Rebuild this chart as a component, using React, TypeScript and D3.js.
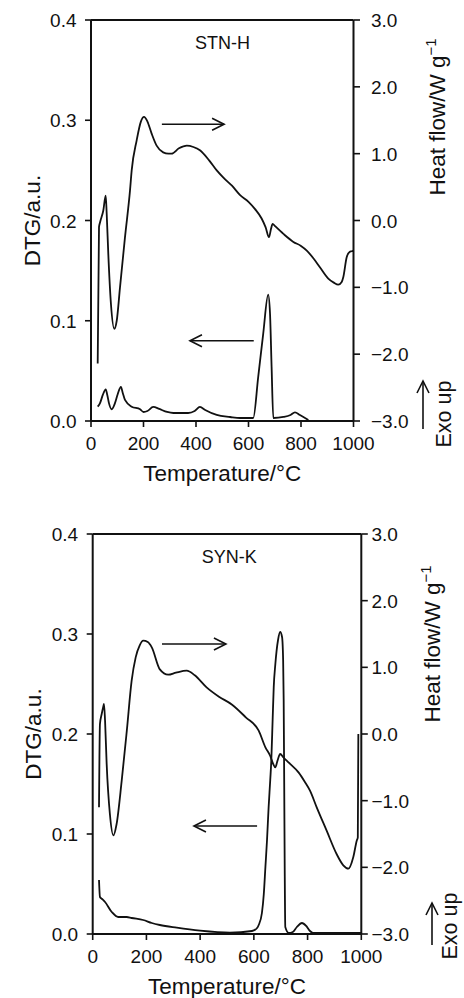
import React from "react";
import * as d3 from "d3";

// ---------- data ----------
const stnDtgT = [25.5, 34, 45, 56, 62, 68.6, 79, 91, 102, 114, 121, 129.5, 155, 187, 200, 215, 237, 260, 290, 314, 370, 395, 415, 435, 479, 530, 568, 600, 618, 637, 656, 675, 682, 688, 694.5, 733, 760, 777, 796, 828];
const stnDtgV = [0.0143, 0.0176, 0.026, 0.0316, 0.026, 0.0176, 0.0117, 0.0176, 0.027, 0.034, 0.028, 0.021, 0.0143, 0.0117, 0.009, 0.010, 0.014, 0.012, 0.009, 0.008, 0.008, 0.010, 0.014, 0.011, 0.006, 0.004, 0.003, 0.003, 0.003, 0.044, 0.087, 0.126, 0.107, 0.054, 0.003, 0.004, 0.006, 0.0087, 0.006, 0.001];

const stnHfT = [25.5, 30.5, 34.3, 46.9, 56, 59.8, 65.9, 76, 88.8, 98, 110.5, 129.5, 148.6, 155, 174, 190, 202, 215, 231, 250, 275, 295, 307, 335, 365, 390, 415, 450, 479, 510, 537, 568, 600, 625, 650, 665, 678, 686, 692, 700, 733, 771, 800, 822, 850, 872, 904, 925, 942, 955, 961, 974, 985, 993, 1000];
const stnHfV = [-2.14, -0.10, -0.03, 0.15, 0.37, 0.10, -0.5, -1.25, -1.62, -1.5, -1.0, -0.25, 0.45, 0.75, 1.2, 1.48, 1.55, 1.48, 1.3, 1.12, 1.02, 1.0, 1.0, 1.08, 1.12, 1.1, 1.05, 0.9, 0.75, 0.62, 0.52, 0.38, 0.28, 0.17, 0.03, -0.1, -0.25, -0.12, -0.05, -0.08, -0.2, -0.32, -0.38, -0.45, -0.58, -0.7, -0.87, -0.93, -0.96, -0.92, -0.85, -0.55, -0.47, -0.46, -0.45];

const synDtgT = [23.5, 27, 35, 46, 71, 95, 127, 145, 188, 220, 250, 313, 400, 511, 593, 612, 618, 630, 637, 643, 649, 655, 661, 665, 670, 674, 680, 690, 698, 705, 709, 711, 713, 715, 717, 730, 745, 760, 779, 795, 809, 820, 900, 1000];
const synDtgV = [0.054, 0.037, 0.035, 0.032, 0.022, 0.017, 0.017, 0.016, 0.014, 0.011, 0.009, 0.0063, 0.0033, 0.0013, 0.003, 0.006, 0.009, 0.021, 0.04, 0.067, 0.094, 0.127, 0.154, 0.174, 0.215, 0.247, 0.27, 0.294, 0.302, 0.297, 0.274, 0.234, 0.15, 0.06, 0.007, 0.001, 0.002, 0.007, 0.011, 0.008, 0.003, 0.001, 0.001, 0.001];

const synHfT = [23.5, 27, 33.5, 40, 42, 46, 52, 64, 77, 89, 108, 127, 145, 160, 175, 188, 205, 220, 250, 281, 310, 350, 380, 424, 470, 519, 570, 618, 643, 661, 672, 680, 688, 698, 710, 730, 767, 790, 809, 834, 871, 908, 933, 952, 970, 983, 987, 989];
const synHfV = [-1.1, 0.15, 0.3, 0.42, 0.45, 0.2, -0.45, -1.2, -1.52, -1.35, -0.7, 0.05, 0.8, 1.15, 1.33, 1.4, 1.38, 1.3, 0.97, 0.89, 0.92, 0.95, 0.88, 0.7, 0.56, 0.44, 0.25, 0.05, -0.2, -0.33, -0.45, -0.5, -0.4, -0.3, -0.35, -0.43, -0.58, -0.72, -0.85, -1.1, -1.45, -1.8, -1.97, -2.02, -1.85, -1.6, -1.55, 0.0];

const xTicks = [0, 200, 400, 600, 800, 1000];
const leftTicks = [0, 0.1, 0.2, 0.3, 0.4];
const rightTicks = [-3, -2, -1, 0, 1, 2, 3];

const sampleNames = ["STN-H", "SYN-K"];
const xTitle = "Temperature/°C";
const leftTitle = "DTG/a.u.";
const rightTitle = "Heat flow/W g";
const exoText = "Exo up";

// ---------- layout ----------
const FONT = "'Liberation Sans', Arial, Helvetica, sans-serif";

type Panel = {
  x0: number; x1: number; yTop: number; yBot: number;
  name: string;
  dtgT: number[]; dtgV: number[]; hfT: number[]; hfV: number[];
  nameAt: [number, number];
  rArrow: [number, number, number];
  lArrow: [number, number, number];
  rTitle: [number, number];
  lTitleX: number;
  rLabelX: number;
  exoArrowX: number; exoArrowY: [number, number];
  exoTextX: number; exoTextY: number;
};

const panels: Panel[] = [
  {
    x0: 91, x1: 353.5, yTop: 20, yBot: 421,
    name: sampleNames[0],
    dtgT: stnDtgT, dtgV: stnDtgV, hfT: stnHfT, hfV: stnHfV,
    nameAt: [396, 0.3706],
    rArrow: [270, 507, 1.44],
    lArrow: [377, 620, 0.08],
    rTitle: [445, 117],
    lTitleX: 40,
    rLabelX: 371,
    exoArrowX: 423, exoArrowY: [429, 381],
    exoTextX: 451, exoTextY: 414,
  },
  {
    x0: 92.7, x1: 361.3, yTop: 534, yBot: 934,
    name: sampleNames[1],
    dtgT: synDtgT, dtgV: synDtgV, hfT: synHfT, hfV: synHfV,
    nameAt: [406, 0.371],
    rArrow: [258, 496, 1.35],
    lArrow: [377, 612, 0.108],
    rTitle: [440, 644],
    lTitleX: 41,
    rLabelX: 371.5,
    exoArrowX: 432, exoArrowY: [945, 903],
    exoTextX: 457, exoTextY: 926,
  },
];

const fmtL = d3.format(".1f");
const fmtR = d3.format(".1f");

function HArrow({ x1, x2, y, dir }: { x1: number; x2: number; y: number; dir: "r" | "l" }) {
  const tip = dir === "r" ? x2 : x1;
  const s = dir === "r" ? -1 : 1;
  return (
    <g stroke="#111" strokeWidth={1.6} fill="none">
      <line x1={x1} x2={x2} y1={y} y2={y} />
      <polyline points={`${tip + s * 12},${y - 6} ${tip},${y} ${tip + s * 12},${y + 6}`} />
    </g>
  );
}

function ChartPanel({ p }: { p: Panel }) {
  const x = d3.scaleLinear().domain([0, 1000]).range([p.x0, p.x1]);
  const yL = d3.scaleLinear().domain([0, 0.4]).range([p.yBot, p.yTop]);
  const yR = d3.scaleLinear().domain([-3, 3]).range([p.yBot, p.yTop]);

  const dtgLine = d3.line<number>().x((_, i) => x(p.dtgT[i])).y((v) => yL(v)).curve(d3.curveMonotoneX);
  const hfLine = d3.line<number>().x((_, i) => x(p.hfT[i])).y((v) => yR(v)).curve(d3.curveMonotoneX);

  const midY = (p.yTop + p.yBot) / 2;
  return (
    <g fontFamily={FONT} fill="#111">
      {/* frame */}
      <g stroke="#111" strokeWidth={2} fill="none">
        <line x1={p.x0} x2={p.x1} y1={p.yTop} y2={p.yTop} />
        <line x1={p.x0} x2={p.x1} y1={p.yBot} y2={p.yBot} />
        <line x1={p.x0} x2={p.x0} y1={p.yTop} y2={p.yBot} />
        <line x1={p.x1} x2={p.x1} y1={p.yTop} y2={p.yBot} />
      </g>
      {/* left ticks */}
      {leftTicks.map((t) => (
        <g key={"l" + t}>
          <line x1={p.x0 - 6} x2={p.x0} y1={yL(t)} y2={yL(t)} stroke="#111" strokeWidth={1.6} />
          <text x={p.x0 - 14.5} y={yL(t) + 7} fontSize={19} textAnchor="end">{fmtL(t)}</text>
        </g>
      ))}
      {/* right ticks */}
      {rightTicks.map((t) => (
        <g key={"r" + t}>
          <line x1={p.x1} x2={p.x1 + 6.5} y1={yR(t)} y2={yR(t)} stroke="#111" strokeWidth={1.6} />
          <text x={p.rLabelX} y={yR(t) + 7} fontSize={19} textAnchor="start">{fmtR(t)}</text>
        </g>
      ))}
      {/* x ticks */}
      {xTicks.map((t) => (
        <g key={"x" + t}>
          <line x1={x(t)} x2={x(t)} y1={p.yBot} y2={p.yBot + 6} stroke="#111" strokeWidth={1.6} />
          <text x={x(t)} y={p.yBot + 29} fontSize={19} textAnchor="middle">{t}</text>
        </g>
      ))}
      {/* titles */}
      <text x={(p.x0 + p.x1) / 2} y={p.yBot + 60} fontSize={22.5} textAnchor="middle">{xTitle}</text>
      <text transform={`translate(${p.lTitleX},${midY}) rotate(-90)`} fontSize={22.5} textAnchor="middle">{leftTitle}</text>
      <text transform={`translate(${p.rTitle[0]},${p.rTitle[1]}) rotate(-90)`} fontSize={22.5} textAnchor="middle">
        {rightTitle}
        <tspan fontSize={15} dy={-9}>−1</tspan>
      </text>
      {/* exo up */}
      <g stroke="#111" strokeWidth={1.6} fill="none">
        <line x1={p.exoArrowX} x2={p.exoArrowX} y1={p.exoArrowY[0]} y2={p.exoArrowY[1]} />
        <polyline points={`${p.exoArrowX - 6},${p.exoArrowY[1] + 12} ${p.exoArrowX},${p.exoArrowY[1]} ${p.exoArrowX + 6},${p.exoArrowY[1] + 12}`} />
      </g>
      <text transform={`translate(${p.exoTextX},${p.exoTextY}) rotate(-90)`} fontSize={21.5} textAnchor="middle">{exoText}</text>
      {/* sample name */}
      <text x={x(p.nameAt[0])} y={yL(p.nameAt[1])} fontSize={18}>{p.name}</text>
      {/* arrows */}
      <HArrow x1={x(p.rArrow[0])} x2={x(p.rArrow[1])} y={yR(p.rArrow[2])} dir="r" />
      <HArrow x1={x(p.lArrow[0])} x2={x(p.lArrow[1])} y={yL(p.lArrow[2])} dir="l" />
      {/* curves */}
      <path d={dtgLine(p.dtgV) || ""} fill="none" stroke="#111" strokeWidth={1.8} strokeLinejoin="round" />
      <path d={hfLine(p.hfV) || ""} fill="none" stroke="#111" strokeWidth={1.8} strokeLinejoin="round" />
    </g>
  );
}

export default function App() {
  return (
    <svg width={464} height={998} style={{ position: "absolute", left: 0, top: 0, background: "#fff" }}>
      <rect width={464} height={998} fill="#fff" />
      {panels.map((p) => (
        <ChartPanel key={p.name} p={p} />
      ))}
    </svg>
  );
}
